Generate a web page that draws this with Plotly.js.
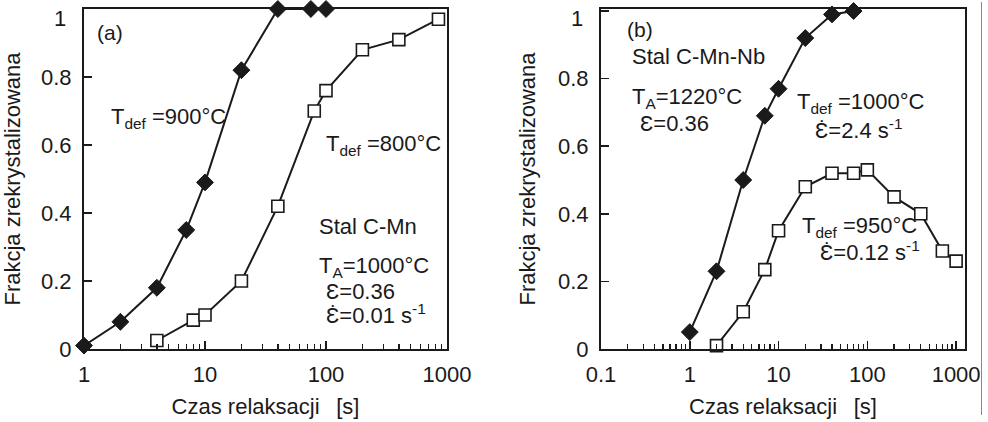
<!DOCTYPE html>
<html>
<head>
<meta charset="utf-8">
<script src="https://cdn.plot.ly/plotly-3.0.1.min.js"></script>
<style>html,body{margin:0;padding:0;background:#fff;}#chart{width:988px;height:422px;}</style>
</head>
<body>
<div id="chart"></div>
<script>
// Panel (a): Stal C-Mn
const xA900 = [1, 2, 4, 7, 10, 20, 40, 75, 100];
const yA900 = [0.01, 0.08, 0.18, 0.35, 0.49, 0.82, 1.0, 1.0, 1.0];
const xA800 = [4, 8, 10, 20, 40, 80, 100, 200, 400, 850];
const yA800 = [0.025, 0.085, 0.10, 0.20, 0.42, 0.70, 0.76, 0.88, 0.91, 0.97];
// Panel (b): Stal C-Mn-Nb
const xB1000 = [1, 2, 4, 7, 10, 20, 40, 70];
const yB1000 = [0.05, 0.23, 0.50, 0.69, 0.77, 0.92, 0.99, 1.0];
const xB950 = [2, 4, 7, 10, 20, 40, 70, 100, 200, 400, 700, 1000];
const yB950 = [0.01, 0.11, 0.235, 0.35, 0.48, 0.52, 0.52, 0.53, 0.45, 0.40, 0.29, 0.26];

const xTicksA = [1, 10, 100, 1000];
const xTicksB = [0.1, 1, 10, 100, 1000];
const yTicks = [0, 0.2, 0.4, 0.6, 0.8, 1];
// the top label "1" sits a little below the frame in the original, drawn separately
const yTickText = ['0', '0.2', '0.4', '0.6', '0.8', ''];
const yTopLabel = '1';
const xTitle = 'Czas relaksacji\u00a0\u00a0\u2009[s]';
const yTitle = 'Frakcja zrekrystalizowana';

const W = 988, H = 422;
const px = v => v / W;
const py = v => 1 - v / H;
const FONT = 'Liberation Sans, Arial, sans-serif';
const INK = '#1a1a1a';

const lineStyle = {color: INK, width: 2};
const diamond = {symbol: 'diamond', size: 13, color: INK, line: {color: INK, width: 1}};
const square = {symbol: 'square', size: 12, color: '#fff', line: {color: INK, width: 1.6}};

const traces = [
  {x: xA900, y: yA900, xaxis: 'x', yaxis: 'y', mode: 'lines+markers', line: lineStyle, marker: diamond, cliponaxis: false},
  {x: xA800, y: yA800, xaxis: 'x', yaxis: 'y', mode: 'lines+markers', line: lineStyle, marker: square, cliponaxis: false},
  {x: xB1000, y: yB1000, xaxis: 'x2', yaxis: 'y2', mode: 'lines+markers', line: lineStyle, marker: diamond, cliponaxis: false},
  {x: xB950, y: yB950, xaxis: 'x2', yaxis: 'y2', mode: 'lines+markers', line: lineStyle, marker: square, cliponaxis: false}
];

function xAxis(range, domain, ticks, anchor) {
  return {
    type: 'log', range: range, domain: domain, anchor: anchor,
    tickvals: ticks, ticktext: ticks.map(String),
    ticks: 'inside', ticklen: 8, tickwidth: 1.5, tickcolor: INK,
    minor: {ticks: 'inside', ticklen: 5, tickwidth: 1.3, tickcolor: INK, dtick: 'D1', showgrid: false},
    showline: true, linecolor: INK, linewidth: 2, mirror: true,
    showgrid: false, zeroline: false,
    tickfont: {family: FONT, size: 22, color: INK},
    ticklabelstandoff: 5,
    ticklabeloverflow: 'allow',
    title: {text: xTitle, font: {family: FONT, size: 22, color: INK}, standoff: 12}
  };
}
function yAxis(range, anchor) {
  return {
    range: range, domain: [py(349), py(9)], anchor: anchor,
    tickvals: yTicks, ticktext: yTickText,
    ticks: 'inside', ticklen: 8, tickwidth: 1.5, tickcolor: INK,
    showline: true, linecolor: INK, linewidth: 2, mirror: true,
    showgrid: false, zeroline: false,
    tickfont: {family: FONT, size: 22, color: INK},
    ticklabelstandoff: 6,
    title: {text: yTitle, font: {family: FONT, size: 22, color: INK}, standoff: 16}
  };
}

const ann = (text, x, y, size, anchor) => ({
  text: text, xref: 'paper', yref: 'paper', x: px(x), y: py(y),
  xanchor: anchor || 'left', yanchor: 'middle', showarrow: false,
  font: {family: FONT, size: size || 22, color: INK}
});

const annotations = [
  ann(yTopLabel, 68, 19, 22, 'right'),
  ann(yTopLabel, 585, 19, 22, 'right'),
  ann('(a)', 95, 32, 21),
  ann('T<sub>def</sub> =900°C', 109, 118),
  ann('T<sub>def</sub> =800°C', 324, 145),
  ann('Stal C-Mn', 317, 226),
  ann('T<sub>A</sub>=1000°C', 317, 267),
  ann('Ɛ=0.36', 324, 291),
  ann('Ɛ̇=0.01 s<sup>-1</sup>', 324, 314),
  ann('(b)', 625, 30, 21),
  ann('Stal C-Mn-Nb', 630, 56),
  ann('T<sub>A</sub>=1220°C', 630, 98),
  ann('Ɛ=0.36', 638, 123),
  ann('T<sub>def</sub> =1000°C', 795, 103),
  ann('Ɛ̇=2.4 s<sup>-1</sup>', 813, 129),
  ann('T<sub>def</sub> =950°C', 800, 227),
  ann('Ɛ̇=0.12 s<sup>-1</sup>', 818, 251)
];

const layout = {
  width: W, height: H,
  margin: {l: 0, r: 0, t: 0, b: 0},
  paper_bgcolor: '#fff', plot_bgcolor: '#fff',
  showlegend: false,
  xaxis: xAxis([0, 3], [px(84), px(447)], xTicksA, 'y'),
  yaxis: yAxis([0, 1.0], 'x'),
  xaxis2: xAxis([-1, 3.1], [px(601), px(965)], xTicksB, 'y2'),
  yaxis2: yAxis([0, 1.006], 'x2'),
  annotations: annotations,
  shapes: [{type: 'line', xref: 'paper', yref: 'paper', x0: px(981.5), x1: px(981.5), y0: py(2), y1: py(415), line: {color: '#888', width: 1}}]
};

Plotly.newPlot('chart', traces, layout, {staticPlot: true, displayModeBar: false});
</script>
</body>
</html>
